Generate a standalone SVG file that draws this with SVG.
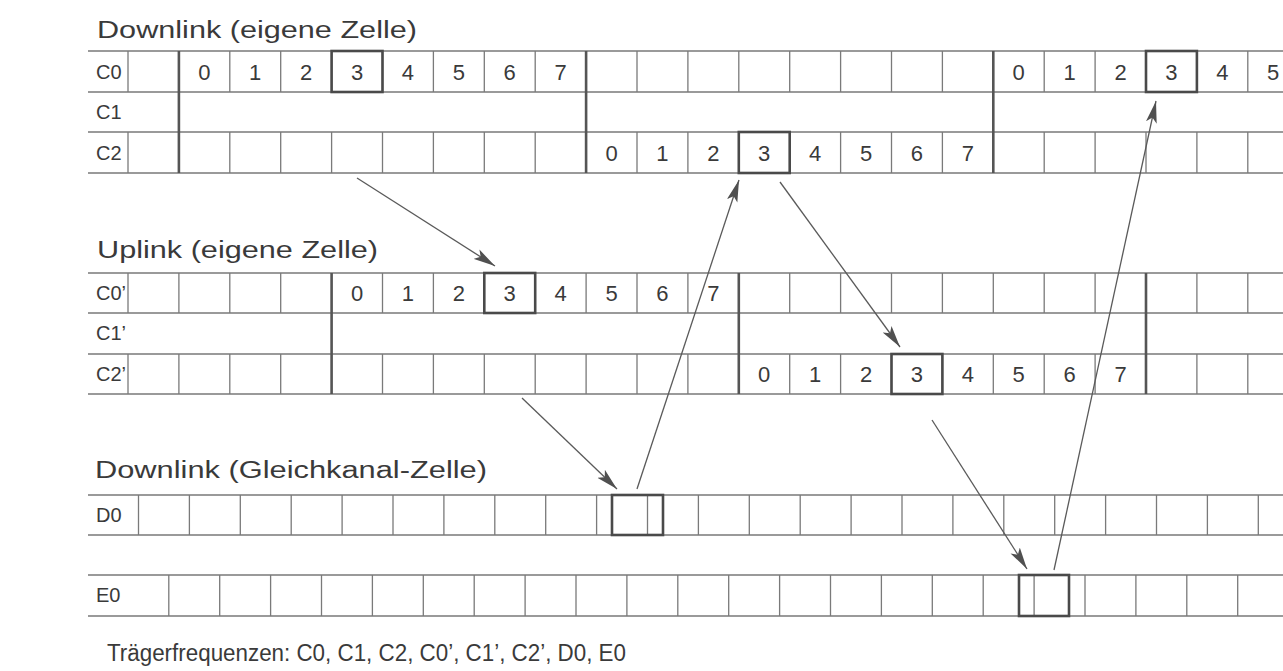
<svg xmlns="http://www.w3.org/2000/svg" width="1283" height="671" viewBox="0 0 1283 671">
  <style>
    .bg { fill: #ffffff; }
    .txt { font-family: "Liberation Sans", Arial, sans-serif; fill: #3a3a3a; }
    .title { font-size: 23px; }
    .foot { font-size: 23px; }
    .lbl { font-size: 20px; }
    .dig { font-size: 22px; text-anchor: middle; }
    .h { stroke: #7a7a7a; stroke-width: 1.3; fill: none; }
    .v { stroke: #7a7a7a; stroke-width: 1.3; fill: none; }
    .vt { stroke: #555555; stroke-width: 2.6; fill: none; }
    .box { stroke: #4a4a4a; stroke-width: 2.6; fill: none; }
    .arr { stroke: #5a5a5a; stroke-width: 1.3; fill: none; marker-end: url(#head); }
  </style>
  <defs>
    <marker id="head" markerUnits="userSpaceOnUse" markerWidth="24" markerHeight="12" refX="22" refY="6" orient="auto">
      <path d="M0,0.5 L22,6 L0,11.5 L5,6 Z" fill="#505050"/>
    </marker>
  </defs>
  <rect class="bg" x="0" y="0" width="1283" height="671"/>

  <!-- Downlink, own cell -->
  <text class="txt title" x="97" y="38" textLength="320" lengthAdjust="spacingAndGlyphs">Downlink (eigene Zelle)</text>
  <g id="downlink-own">
    <path class="h" d="M88,51 H1283 M88,92 H1283 M88,132 H1283 M88,173 H1283"/>
    <!-- thin slot dividers in C0 and C2 rows -->
    <path class="v" d="M128,51 V92 M128,132 V173
      M229.8,51 V92 M229.8,132 V173 M280.7,51 V92 M280.7,132 V173 M331.6,51 V92 M331.6,132 V173
      M382.5,51 V92 M382.5,132 V173 M433.4,51 V92 M433.4,132 V173 M484.3,51 V92 M484.3,132 V173
      M535.2,51 V92 M535.2,132 V173 M637,51 V92 M637,132 V173 M687.9,51 V92 M687.9,132 V173
      M738.8,51 V92 M738.8,132 V173 M789.7,51 V92 M789.7,132 V173 M840.6,51 V92 M840.6,132 V173
      M891.5,51 V92 M891.5,132 V173 M942.4,51 V92 M942.4,132 V173 M1044.2,51 V92 M1044.2,132 V173
      M1095.1,51 V92 M1095.1,132 V173 M1146,51 V92 M1146,132 V173 M1196.9,51 V92 M1196.9,132 V173
      M1247.8,51 V92 M1247.8,132 V173"/>
    <!-- frame boundaries -->
    <path class="vt" d="M178.9,51 V173 M586.1,51 V173 M993.3,51 V173"/>
    <rect class="box" x="331.6" y="51" width="50.9" height="41"/>
    <rect class="box" x="1146" y="51" width="50.9" height="41"/>
    <rect class="box" x="738.8" y="132" width="50.9" height="41"/>
    <text class="txt lbl" x="96" y="79">C0</text>
    <text class="txt lbl" x="96" y="119">C1</text>
    <text class="txt lbl" x="96" y="160">C2</text>
    <g class="txt dig">
      <text x="204.3" y="80">0</text><text x="255.2" y="80">1</text><text x="306.1" y="80">2</text><text x="357" y="80">3</text>
      <text x="407.9" y="80">4</text><text x="458.8" y="80">5</text><text x="509.7" y="80">6</text><text x="560.6" y="80">7</text>
      <text x="1018.7" y="80">0</text><text x="1069.6" y="80">1</text><text x="1120.5" y="80">2</text><text x="1171.4" y="80">3</text>
      <text x="1222.3" y="80">4</text><text x="1273.2" y="80">5</text>
      <text x="611.5" y="161">0</text><text x="662.4" y="161">1</text><text x="713.3" y="161">2</text><text x="764.2" y="161">3</text>
      <text x="815.1" y="161">4</text><text x="866" y="161">5</text><text x="916.9" y="161">6</text><text x="967.8" y="161">7</text>
    </g>
  </g>

  <!-- Uplink, own cell -->
  <text class="txt title" x="97" y="258" textLength="281" lengthAdjust="spacingAndGlyphs">Uplink (eigene Zelle)</text>
  <g id="uplink-own">
    <path class="h" d="M88,273 H1283 M88,313 H1283 M88,354 H1283 M88,394 H1283"/>
    <path class="v" d="M128,273 V313 M128,354 V394 M178.9,273 V313 M178.9,354 V394
      M229.8,273 V313 M229.8,354 V394 M280.7,273 V313 M280.7,354 V394
      M382.5,273 V313 M382.5,354 V394 M433.4,273 V313 M433.4,354 V394 M484.3,273 V313 M484.3,354 V394
      M535.2,273 V313 M535.2,354 V394 M586.1,273 V313 M586.1,354 V394 M637,273 V313 M637,354 V394
      M687.9,273 V313 M687.9,354 V394 M789.7,273 V313 M789.7,354 V394 M840.6,273 V313 M840.6,354 V394
      M891.5,273 V313 M891.5,354 V394 M942.4,273 V313 M942.4,354 V394 M993.3,273 V313 M993.3,354 V394
      M1044.2,273 V313 M1044.2,354 V394 M1095.1,273 V313 M1095.1,354 V394
      M1196.9,273 V313 M1196.9,354 V394 M1247.8,273 V313 M1247.8,354 V394"/>
    <path class="vt" d="M331.6,273 V394 M738.8,273 V394 M1146,273 V394"/>
    <rect class="box" x="484.3" y="273" width="50.9" height="40"/>
    <rect class="box" x="891.5" y="354" width="50.9" height="40"/>
    <text class="txt lbl" x="96" y="300">C0’</text>
    <text class="txt lbl" x="96" y="340">C1’</text>
    <text class="txt lbl" x="96" y="381">C2’</text>
    <g class="txt dig">
      <text x="357" y="301">0</text><text x="407.9" y="301">1</text><text x="458.8" y="301">2</text><text x="509.7" y="301">3</text>
      <text x="560.6" y="301">4</text><text x="611.5" y="301">5</text><text x="662.4" y="301">6</text><text x="713.3" y="301">7</text>
      <text x="764.2" y="382">0</text><text x="815.1" y="382">1</text><text x="866" y="382">2</text><text x="916.9" y="382">3</text>
      <text x="967.8" y="382">4</text><text x="1018.7" y="382">5</text><text x="1069.6" y="382">6</text><text x="1120.5" y="382">7</text>
    </g>
  </g>

  <!-- Downlink, co-channel cell -->
  <text class="txt title" x="95" y="478" textLength="392" lengthAdjust="spacingAndGlyphs">Downlink (Gleichkanal-Zelle)</text>
  <g id="cochannel-d0">
    <path class="h" d="M88,495 H1283 M88,535 H1283"/>
    <path class="v" d="M138.5,495 V535 M189.4,495 V535 M240.3,495 V535 M291.2,495 V535 M342.1,495 V535
      M393,495 V535 M443.9,495 V535 M494.8,495 V535 M545.7,495 V535 M596.6,495 V535 M647.5,495 V535
      M698.4,495 V535 M749.3,495 V535 M800.2,495 V535 M851.1,495 V535 M902,495 V535 M952.9,495 V535
      M1003.8,495 V535 M1054.7,495 V535 M1105.6,495 V535 M1156.5,495 V535 M1207.4,495 V535 M1258.3,495 V535"/>
    <rect class="box" x="612" y="495" width="51" height="40"/>
    <text class="txt lbl" x="96" y="522">D0</text>
  </g>
  <g id="cochannel-e0">
    <path class="h" d="M88,575 H1283 M88,616 H1283"/>
    <path class="v" d="M168.8,575 V616 M219.7,575 V616 M270.6,575 V616 M321.5,575 V616 M372.4,575 V616
      M423.3,575 V616 M474.2,575 V616 M525.1,575 V616 M576,575 V616 M626.9,575 V616 M677.8,575 V616
      M728.7,575 V616 M779.6,575 V616 M830.5,575 V616 M881.4,575 V616 M932.3,575 V616 M983.2,575 V616
      M1034.1,575 V616 M1085,575 V616 M1135.9,575 V616 M1186.8,575 V616 M1237.7,575 V616"/>
    <rect class="box" x="1019" y="575" width="50" height="41"/>
    <text class="txt lbl" x="96" y="602">E0</text>
  </g>

  <!-- slot hops between the carriers -->
  <g id="connectors">
    <line class="arr" x1="357" y1="178" x2="495" y2="266"/>
    <line class="arr" x1="522" y1="398" x2="617" y2="489"/>
    <line class="arr" x1="637" y1="489" x2="739" y2="180"/>
    <line class="arr" x1="780" y1="182" x2="900" y2="347"/>
    <line class="arr" x1="932" y1="420" x2="1027" y2="569"/>
    <line class="arr" x1="1054" y1="570" x2="1156" y2="101"/>
  </g>

  <text class="txt foot" x="107" y="661" textLength="519" lengthAdjust="spacingAndGlyphs">Trägerfrequenzen: C0, C1, C2, C0’, C1’, C2’, D0, E0</text>
</svg>
